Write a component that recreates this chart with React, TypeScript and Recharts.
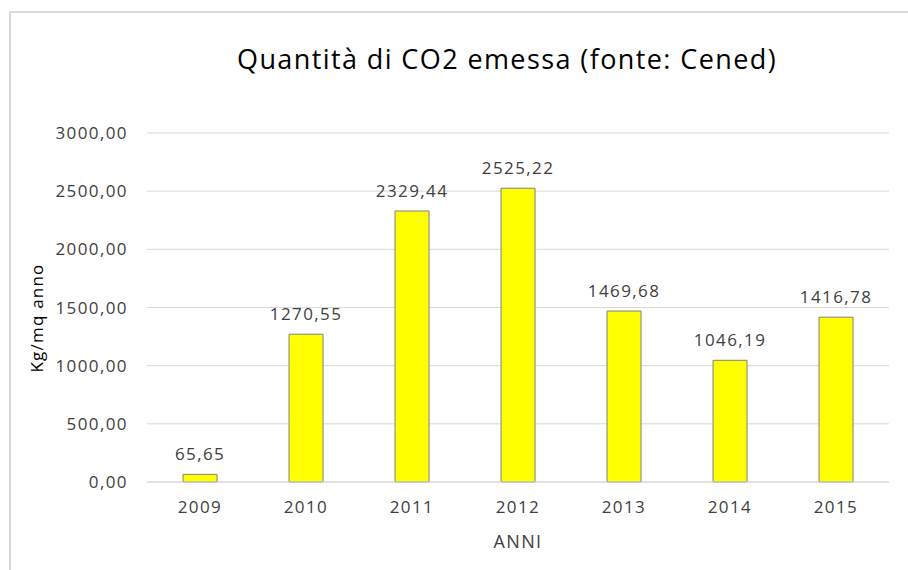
import { BarChart, Bar, XAxis, YAxis, CartesianGrid, LabelList } from "recharts";

const anni = ["2009", "2010", "2011", "2012", "2013", "2014", "2015"];
const co2 = [65.65, 1270.55, 2329.44, 2525.22, 1469.68, 1046.19, 1416.78];
const yTicks = [0, 500, 1000, 1500, 2000, 2500, 3000];

const data = anni.map((anno, i) => ({ anno, co2: co2[i] }));

const fmt = (v: number) => Number(v).toFixed(2).replace(".", ",");

const font = "'Open Sans', 'DejaVu Sans', sans-serif";
const tickStyle = { fontSize: 17, fill: "#404040", fontFamily: font, letterSpacing: 1.4 };

export default function App() {
  return (
    <div
      style={{
        position: "absolute",
        left: 0,
        top: 0,
        width: 908,
        height: 570,
        overflow: "hidden",
        background: "#fff",
        fontFamily: font,
      }}
    >
      <div
        style={{
          position: "absolute",
          left: 9,
          top: 11,
          width: 1200,
          height: 1200,
          border: "2px solid #d9d9d9",
        }}
      />
      <div
        style={{
          position: "absolute",
          left: 0,
          width: 1014,
          top: 40,
          textAlign: "center",
          fontSize: 27,
          letterSpacing: 1.4,
          color: "#000",
        }}
      >
        Quantità di CO2 emessa (fonte: Cened)
      </div>
      <div
        style={{
          position: "absolute",
          left: 37 - 100,
          top: 318 - 12,
          width: 200,
          height: 24,
          lineHeight: "24px",
          textAlign: "center",
          transform: "rotate(-90deg)",
          fontSize: 17,
          letterSpacing: 1.2,
          color: "#000",
        }}
      >
        Kg/mq anno
      </div>
      <div style={{ position: "absolute", left: 0, top: 0 }}>
        <BarChart
          width={908}
          height={570}
          data={data}
          margin={{ top: 133, right: 19, left: 0, bottom: 0 }}
          barCategoryGap="34%"
        >
          <CartesianGrid vertical={false} stroke="#d9d9d9" />
          <XAxis
            dataKey="anno"
            height={88}
            axisLine={{ stroke: "#d9d9d9" }}
            tickLine={false}
            tickMargin={13}
            tick={tickStyle}
            label={{
              value: "ANNI",
              position: "insideBottom",
              offset: 22,
              fontSize: 18,
              letterSpacing: 1.4,
              fill: "#404040",
              fontFamily: font,
            }}
          />
          <YAxis
            width={147}
            domain={[0, 3000]}
            ticks={yTicks}
            tickFormatter={fmt}
            axisLine={false}
            tickLine={false}
            tickSize={0}
            tickMargin={19}
            tick={tickStyle}
          />
          <Bar
            dataKey="co2"
            fill="#ffff00"
            stroke="#808080"
            strokeWidth={1}
            isAnimationActive={false}
          >
            <LabelList
              dataKey="co2"
              position="top"
              offset={14}
              formatter={(v: any) => fmt(v)}
              style={tickStyle}
            />
          </Bar>
        </BarChart>
      </div>
    </div>
  );
}
